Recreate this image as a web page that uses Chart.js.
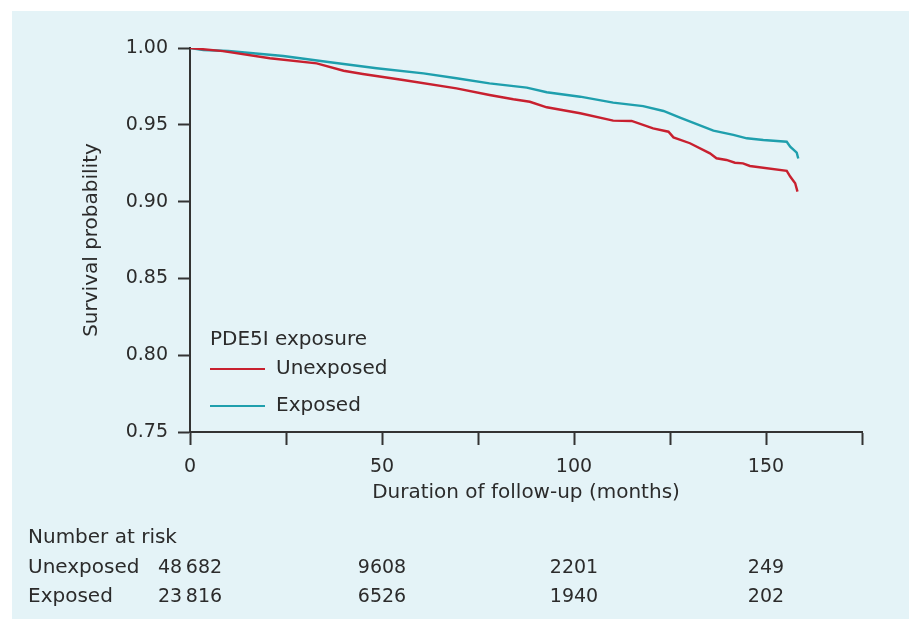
<!DOCTYPE html>
<html>
<head>
<meta charset="utf-8">
<script src="https://cdn.jsdelivr.net/npm/chart.js@4"></script>
<style>
  html, body { margin: 0; padding: 0; background: #ffffff; }
  #wrap { width: 914px; height: 619px; position: relative; }
</style>
</head>
<body>
<div id="wrap"><canvas id="km" width="914" height="619"></canvas></div>
<script>
// Kaplan-Meier curves
const unexposedMonths = [0, 8.6, 20.8, 33, 40, 45, 55.5, 69.4, 78, 84.2, 88.5, 92.9, 101.6, 110.2, 115, 120.6, 124.6, 125.9, 130.2, 135.4, 137.1, 139.7, 141.9, 144, 145.8, 155.4, 156.3, 157.6, 158.2];
const unexposedSurv = [1, 0.998, 0.9933, 0.990, 0.9852, 0.9831, 0.9792, 0.9737, 0.9694, 0.9666, 0.965, 0.9614, 0.9575, 0.9527, 0.9525, 0.9477, 0.9455, 0.9418, 0.938, 0.9314, 0.9282, 0.9271, 0.9253, 0.9249, 0.9232, 0.92, 0.9163, 0.912, 0.9065];
const exposedMonths = [0, 3.5, 10, 24.3, 36.5, 48.6, 60.8, 69.4, 78, 87.7, 92.9, 101.6, 110.2, 118, 123.3, 127.6, 136.3, 141.5, 145, 149.3, 155.4, 156.3, 158, 158.4];
const exposedSurv = [1, 0.9987, 0.998, 0.9948, 0.9907, 0.9868, 0.9835, 0.9803, 0.977, 0.9742, 0.9712, 0.9683, 0.9644, 0.9622, 0.959, 0.9547, 0.9462, 0.9434, 0.9412, 0.9401, 0.939, 0.9358, 0.9319, 0.9281];

// number at risk table
const riskMonths = [0, 50, 100, 150];
const unexposedAtRisk = ['48\u2009682', '9608', '2201', '249'];
const exposedAtRisk = ['23\u2009816', '6526', '1940', '202'];

const seriesNames = ['Unexposed', 'Exposed'];
const seriesColors = ['#c8202f', '#1f9fad'];

const FONT = 'DejaVu Sans';
const TXT = '#2b2b2b';
Chart.defaults.font.family = FONT;
Chart.defaults.font.size = 19;
Chart.defaults.color = TXT;

function toPoints(xs, ys) {
  return xs.map((x, i) => ({ x: x, y: ys[i] }));
}

// light blue panel behind everything
const panel = {
  id: 'panel',
  beforeDraw(chart) {
    const c = chart.ctx;
    c.save();
    c.fillStyle = '#e4f3f7';
    c.fillRect(12, 11, 897, 608);
    c.restore();
  }
};

// legend inside the plot + number at risk table under it
const extras = {
  id: 'extras',
  afterDraw(chart) {
    const c = chart.ctx;
    const xs = chart.scales.x;
    c.save();
    c.font = '20px ' + FONT;
    c.fillStyle = TXT;
    c.textBaseline = 'middle';
    c.textAlign = 'left';
    c.fillText('PDE5I exposure', 210, 340);
    const ly = [369, 406];
    seriesNames.forEach((n, i) => {
      c.strokeStyle = seriesColors[i];
      c.lineWidth = 2;
      c.beginPath();
      c.moveTo(210, ly[i]);
      c.lineTo(265, ly[i]);
      c.stroke();
      c.fillText(n, 276, ly[i]);
    });

    c.fillText('Number at risk', 28, 538);
    c.fillText('Unexposed', 28, 568);
    c.fillText('Exposed', 28, 597);
    c.font = '19px ' + FONT;
    c.textAlign = 'center';
    riskMonths.forEach((m, i) => {
      const px = xs.getPixelForValue(m);
      c.fillText(unexposedAtRisk[i], px, 568);
      c.fillText(exposedAtRisk[i], px, 597);
    });
    c.restore();
  }
};

new Chart(document.getElementById('km'), {
  type: 'line',
  data: {
    datasets: [
      {
        label: seriesNames[0],
        data: toPoints(unexposedMonths, unexposedSurv),
        borderColor: seriesColors[0],
        borderWidth: 2.4,
        pointRadius: 0,
        tension: 0
      },
      {
        label: seriesNames[1],
        data: toPoints(exposedMonths, exposedSurv),
        borderColor: seriesColors[1],
        borderWidth: 2.4,
        pointRadius: 0,
        tension: 0
      }
    ]
  },
  options: {
    responsive: false,
    animation: false,
    layout: { padding: { top: 48, right: 52, left: 80, bottom: 114 } },
    plugins: { legend: { display: false }, tooltip: { enabled: false } },
    scales: {
      x: {
        type: 'linear',
        min: 0,
        max: 175,
        afterFit(s) { s.height = 73; },
        border: { color: '#333', width: 2 },
        grid: { drawOnChartArea: false, tickLength: 13, tickColor: '#333', tickWidth: 2 },
        ticks: {
          stepSize: 25,
          padding: 11,
          color: TXT,
          maxRotation: 0,
          callback: v => (v % 50 === 0 && v <= 150) ? String(v) : ''
        },
        title: {
          display: true,
          text: 'Duration of follow-up (months)',
          color: TXT,
          font: { size: 20 },
          padding: { top: 0, bottom: 0 }
        }
      },
      y: {
        min: 0.75,
        max: 1.0,
        afterFit(s) { s.width = 110; },
        border: { color: '#333', width: 2 },
        grid: { drawOnChartArea: false, tickLength: 12, tickColor: '#333', tickWidth: 2 },
        ticks: {
          stepSize: 0.05,
          padding: 10,
          color: TXT,
          callback: v => v.toFixed(2)
        },
        title: {
          display: true,
          text: 'Survival probability',
          color: TXT,
          font: { size: 20 },
          padding: { top: 0, bottom: 0 }
        }
      }
    }
  },
  plugins: [panel, extras]
});
</script>
</body>
</html>
